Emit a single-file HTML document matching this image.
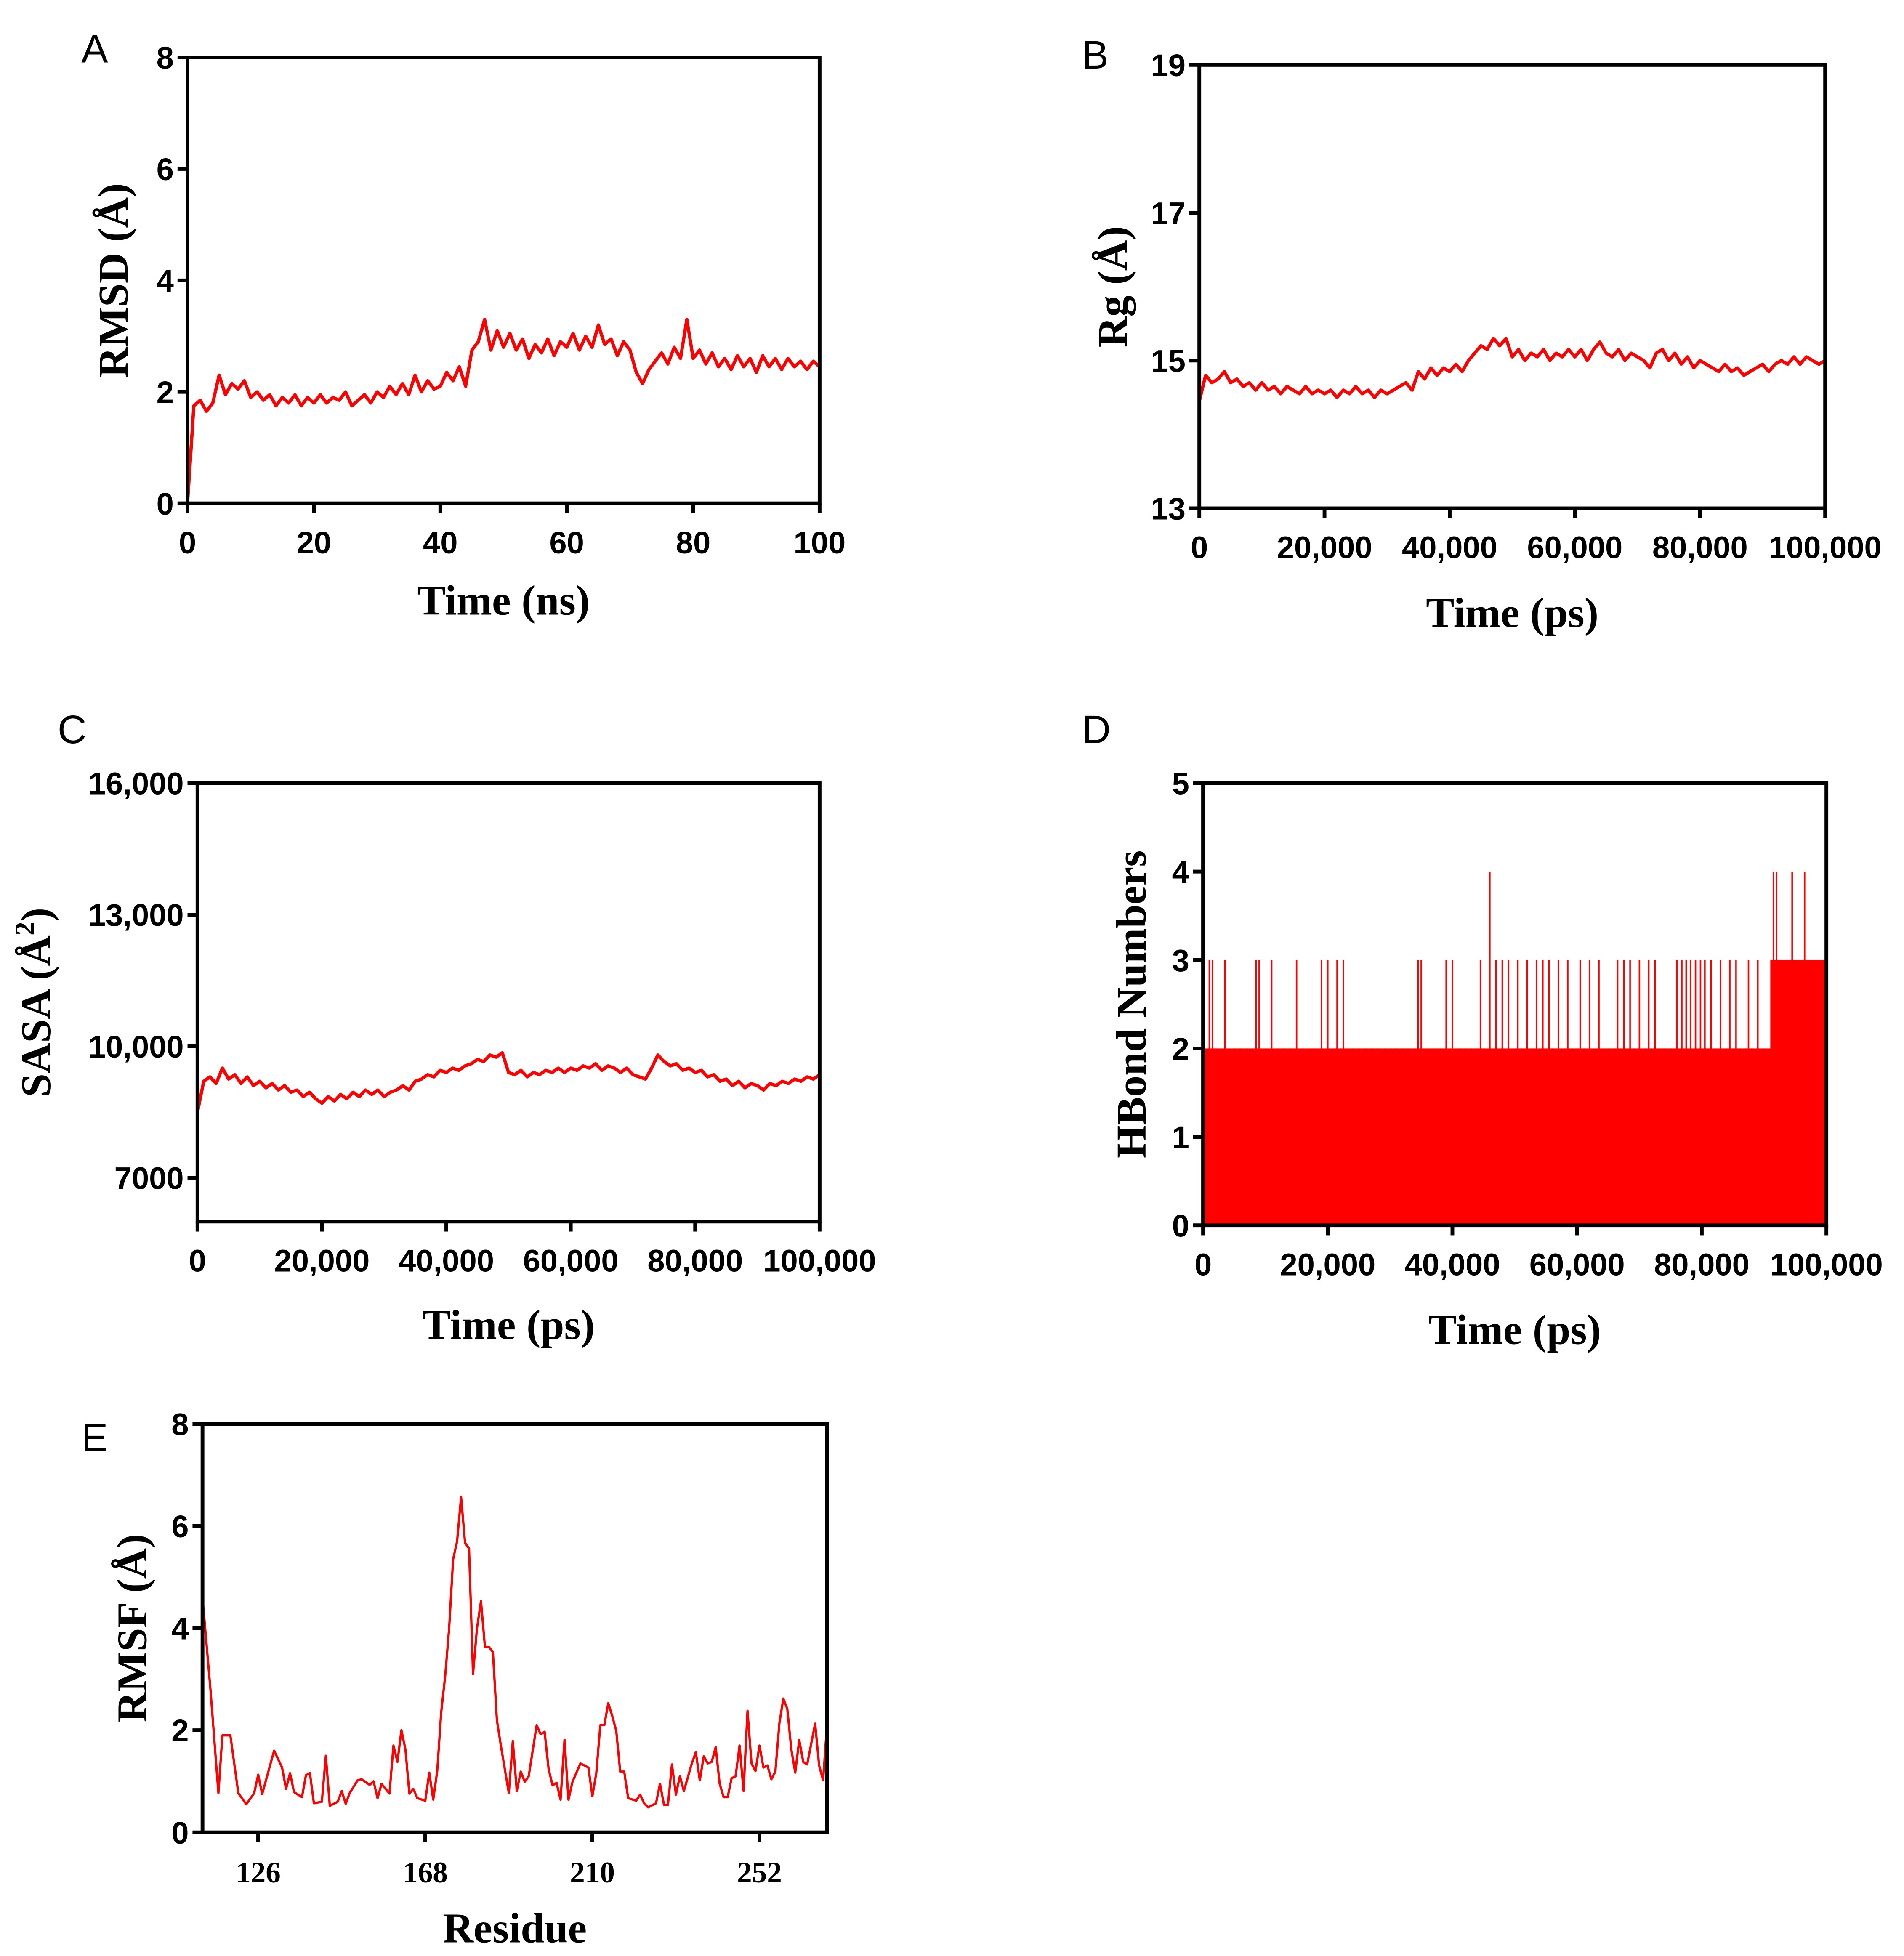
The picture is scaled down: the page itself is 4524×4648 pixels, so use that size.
<!DOCTYPE html>
<html><head><meta charset="utf-8"><style>
html,body{margin:0;padding:0;background:#fff}
svg{display:block}
.tk{font-family:"Liberation Sans",sans-serif;font-weight:bold;font-size:25px}
.tks{font-family:"Liberation Serif",serif;font-weight:bold;font-size:24px}
.ttl{font-family:"Liberation Serif",serif;font-weight:bold;font-size:34px}
.pl{font-family:"Liberation Sans",sans-serif;font-size:32px}
</style></head><body>
<svg id="fig" xmlns="http://www.w3.org/2000/svg" width="4524" height="4648" viewBox="0 0 1524 1566"></svg>
<script>
const rmsdVals=[0.0,1.75,1.85,1.65,1.8,2.3,1.95,2.15,2.05,2.2,1.9,2.0,1.85,1.95,1.75,1.9,1.8,1.95,1.75,1.9,1.8,1.95,1.8,1.9,1.85,2.0,1.75,1.85,1.95,1.8,2.0,1.9,2.1,1.95,2.15,1.95,2.3,2.0,2.2,2.05,2.1,2.35,2.2,2.45,2.1,2.75,2.9,3.3,2.75,3.1,2.8,3.05,2.75,2.95,2.6,2.85,2.7,2.95,2.65,2.9,2.8,3.05,2.75,3.0,2.8,3.2,2.85,2.95,2.65,2.9,2.75,2.35,2.15,2.4,2.55,2.7,2.5,2.8,2.6,3.3,2.6,2.75,2.5,2.7,2.45,2.6,2.4,2.65,2.45,2.6,2.35,2.65,2.45,2.6,2.4,2.6,2.45,2.55,2.4,2.55,2.45];
const rgVals=[14.45,14.8,14.7,14.75,14.85,14.7,14.75,14.65,14.7,14.6,14.7,14.6,14.65,14.55,14.65,14.6,14.55,14.65,14.55,14.6,14.55,14.6,14.5,14.6,14.55,14.65,14.55,14.6,14.5,14.6,14.55,14.6,14.65,14.7,14.6,14.85,14.75,14.9,14.8,14.9,14.85,14.95,14.85,15.0,15.1,15.2,15.15,15.3,15.2,15.3,15.05,15.15,15.0,15.1,15.05,15.15,15.0,15.1,15.05,15.15,15.05,15.15,15.0,15.15,15.25,15.1,15.05,15.15,15.0,15.1,15.05,15.0,14.9,15.1,15.15,15.0,15.1,14.95,15.05,14.9,15.0,14.95,14.9,14.85,14.95,14.85,14.9,14.8,14.85,14.9,14.95,14.85,14.95,15.0,14.95,15.05,14.95,15.05,15.0,14.95,15.0];
const sasaVals=[8500,9200,9300,9150,9500,9250,9350,9150,9300,9100,9200,9050,9150,9000,9100,8950,9000,8850,8950,8800,8700,8850,8750,8900,8800,8950,8850,9000,8900,9000,8850,8950,9000,9100,9000,9200,9250,9350,9300,9450,9400,9500,9450,9550,9600,9700,9650,9800,9750,9850,9400,9350,9450,9300,9400,9350,9450,9400,9500,9400,9500,9450,9550,9500,9600,9450,9550,9500,9400,9500,9350,9300,9250,9500,9800,9650,9550,9600,9450,9500,9400,9450,9300,9350,9200,9250,9100,9200,9050,9150,9100,9000,9150,9100,9200,9150,9250,9200,9300,9250,9350];
const hbBase=[2,2,2,2,2,2,2,2,2,2,2,2,2,2,2,2,2,2,2,2,2,2,2,2,2,2,2,2,2,2,2,2,2,2,2,2,2,2,2,2,2,2,2,2,2,2,2,2,2,2,2,2,2,2,2,2,2,2,2,2,2,2,2,2,2,2,2,2,2,2,2,2,2,2,2,2,2,2,2,2,2,2,2,2,2,2,2,2,2,2,2,3,3,3,3,3,3,3,3,3];
const hbSpikeT=[1000,1500,3500,8500,9000,11000,15000,19000,20000,21500,22500,34500,35000,39000,40000,44500,46000,47000,48000,49000,50500,52000,53500,54500,55500,57000,58500,60500,62000,63500,66500,67500,68500,70000,71500,72500,76000,76800,77500,78200,79000,79800,80500,81500,83000,84500,85500,87500,89000,91500,92000,94500,96500];
const hbSpikeV=[3,3,3,3,3,3,3,3,3,3,3,3,3,3,3,3,4,3,3,3,3,3,3,3,3,3,3,3,3,3,3,3,3,3,3,3,3,3,3,3,3,3,3,3,3,3,3,3,3,4,4,4,4];
const rmsfRes=[112,114,116,117,119,121,123,125,126,127,130,132,133,134,135,137,138,139,140,142,143,144,146,147,148,149,151,152,154,155,156,157,159,160,161,162,163,164,165,166,168,169,170,171,172,173,174,175,176,177,178,179,180,181,182,183,184,185,186,187,189,190,191,192,193,194,196,197,198,199,200,201,202,203,204,205,207,209,210,211,212,213,214,215,216,217,218,219,221,222,223,224,226,227,228,229,230,231,232,233,235,236,237,238,239,240,241,242,243,244,245,246,247,248,249,250,251,252,253,254,255,256,257,258,259,260,261,262,263,264,266,267,268,269];
const rmsfVals=[4.6,2.8,0.77,1.9,1.9,0.77,0.55,0.77,1.13,0.75,1.6,1.27,0.85,1.16,0.79,0.69,1.12,1.16,0.57,0.6,1.5,0.52,0.6,0.81,0.56,0.77,1.02,1.04,0.93,1.0,0.67,0.95,0.76,1.7,1.38,2.0,1.63,0.76,0.85,0.67,0.62,1.17,0.64,1.2,2.35,3.06,4.0,5.35,5.7,6.57,5.67,5.56,3.1,4.0,4.53,3.63,3.63,3.53,2.2,1.7,0.77,1.79,0.81,1.19,0.99,1.1,2.1,1.92,1.97,1.24,0.92,0.97,0.64,1.81,0.64,0.99,1.35,1.27,0.71,1.17,2.1,2.1,2.53,2.28,1.99,1.19,1.19,0.67,0.62,0.74,0.57,0.49,0.57,0.95,0.54,0.54,1.33,0.74,1.1,0.81,1.35,1.57,1.02,1.49,1.35,1.38,1.67,0.95,0.69,0.69,1.06,1.1,1.7,0.81,2.38,1.35,1.2,1.7,1.27,1.31,1.04,1.19,2.13,2.62,2.42,1.63,1.17,1.81,1.38,1.33,2.13,1.31,1.02,2.13];
const rmsdTicksX=[0,20,40,60,80,100], rmsdTicksY=[0,2,4,6,8];
const psTicks=[0,20000,40000,60000,80000,100000], psLabels=["0","20,000","40,000","60,000","80,000","100,000"];
const rgTicksY=[13,15,17,19];
const sasaTicksY=[7000,10000,13000,16000], sasaLabels=["7000","10,000","13,000","16,000"];
const hbTicksY=[0,1,2,3,4,5];
const rmsfTicksX=[126,168,210,252];

const NS="http://www.w3.org/2000/svg", svg=document.getElementById('fig');
function mk(t,a,p){const e=document.createElementNS(NS,t);for(const k in a)e.setAttribute(k,a[k]);(p||svg).appendChild(e);return e;}
function panel(c){
  const g=mk('g',{});
  
  
  const sx=v=>c.l+(v-c.x0)/(c.x1-c.x0)*(c.r-c.l), sy=v=>c.b-(v-c.y0)/(c.y1-c.y0)*(c.b-c.t);
  c.draw(g,sx,sy);
  const fr=mk('rect',{x:c.l,y:c.t,width:c.r-c.l,height:c.b-c.t,fill:'none',stroke:'#000','stroke-width':3},g);
  
  
  c.yt.forEach((v,i)=>{const y=sy(v);mk('line',{x1:c.l-8,x2:c.l,y1:y,y2:y,stroke:'#000','stroke-width':3},g);
    const t=mk('text',{x:c.l-11,y:y+9,'text-anchor':'end',class:c.ycls||'tk'},g);t.textContent=c.yl?c.yl[i]:v;
    
    });
  c.xt.forEach((v,i)=>{const x=sx(v);mk('line',{x1:x,x2:x,y1:c.b,y2:c.b+8,stroke:'#000','stroke-width':3},g);
    const t=mk('text',{x:x,y:c.b+40,'text-anchor':'middle',class:c.xcls||'tk'},g);t.textContent=c.xl?c.xl[i]:v;
    
    });
  const xt=mk('text',{x:(c.l+c.r)/2,y:c.xty,'text-anchor':'middle',class:'ttl'},g);xt.textContent=c.xtitle;
  
  
  const yt=mk('text',{x:0,y:0,'text-anchor':'middle',class:'ttl',transform:`translate(${c.ytx},${(c.t+c.b)/2}) rotate(-90)`},g);yt.innerHTML=c.ytitle;
  
  
  const pl=mk('text',{x:c.px,y:c.py,class:'pl'},g);pl.textContent=c.letter;
  
  
}
function line(g,pts,name,w){const p=mk('polyline',{points:pts.map(q=>q.join(',')).join(' '),fill:'none',stroke:'#f00','stroke-width':w||2.6,'stroke-linejoin':'round'},g);
  
  }

panel({name:'panel-a-rmsd',l:150,r:656,t:46,b:403,x0:0,x1:100,y0:0,y1:8,xt:rmsdTicksX,yt:rmsdTicksY,xtitle:'Time (ns)',xty:492,ytitle:'RMSD (Å)',ytx:102,letter:'A',px:65,py:50,
  draw:(g,sx,sy)=>line(g,rmsdVals.map((v,i)=>[sx(i*100/(rmsdVals.length-1)),sy(v)]),'rmsd-line')});
panel({name:'panel-b-rg',l:960,r:1461,t:52,b:407,x0:0,x1:100000,y0:13,y1:19,xt:psTicks,xl:psLabels,yt:rgTicksY,xtitle:'Time (ps)',xty:502,ytitle:'Rg (Å)',ytx:902,letter:'B',px:866,py:55,
  draw:(g,sx,sy)=>line(g,rgVals.map((v,i)=>[sx(i*100000/(rgVals.length-1)),sy(v)]),'rg-line')});
panel({name:'panel-c-sasa',l:158,r:656,t:627,b:978,x0:0,x1:100000,y0:6000,y1:16000,xt:psTicks,xl:psLabels,yt:sasaTicksY,yl:sasaLabels,xtitle:'Time (ps)',xty:1072,ytitle:'SASA (Å<tspan dy="-13" font-size="22">2</tspan><tspan dy="13">)</tspan>',ytx:40,letter:'C',px:46,py:595,
  draw:(g,sx,sy)=>line(g,sasaVals.map((v,i)=>[sx(i*100000/(sasaVals.length-1)),sy(v)]),'sasa-line')});
panel({name:'panel-d-hbond',l:963,r:1462,t:627,b:981,x0:0,x1:100000,y0:0,y1:5,xt:psTicks,xl:psLabels,yt:hbTicksY,xtitle:'Time (ps)',xty:1076,ytitle:'HBond Numbers',ytx:917,letter:'D',px:866,py:595,
  draw:(g,sx,sy)=>{const w=(sx(100000)-sx(0))/hbBase.length;
    hbBase.forEach((v,i)=>{const r=mk('rect',{x:sx(i*100000/hbBase.length),y:sy(v),width:w+0.6,height:sy(0)-sy(v),fill:'#f00'},g);
      
      });
    hbSpikeT.forEach((t,i)=>{const l=mk('line',{x1:sx(t),x2:sx(t),y1:sy(0),y2:sy(hbSpikeV[i]),stroke:'#f00','stroke-width':1.2},g);
      
      });}});
panel({name:'panel-e-rmsf',l:162,r:662,t:1140,b:1467,x0:112,x1:269,y0:0,y1:8,xt:rmsfTicksX,yt:rmsdTicksY,xcls:'tks',xtitle:'Residue',xty:1555,ytitle:'RMSF (Å)',ytx:117,letter:'E',px:65,py:1162,
  draw:(g,sx,sy)=>line(g,rmsfRes.map((r,i)=>[sx(r),sy(rmsfVals[i])]),'rmsf-line',1.8)});
</script>
</body></html>
